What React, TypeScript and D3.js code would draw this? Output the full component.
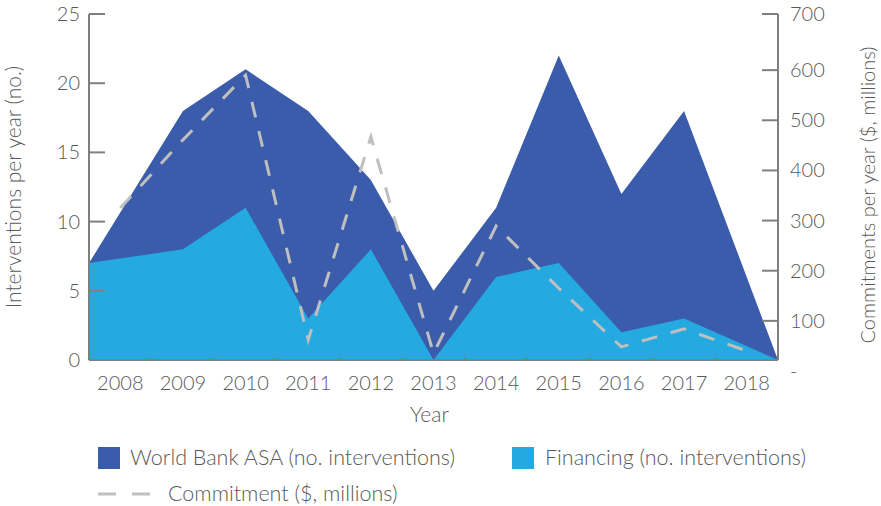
import React from 'react';
import { scaleLinear, scaleBand, area, line } from 'd3';

// chart values
const years = ['2008', '2009', '2010', '2011', '2012', '2013', '2014', '2015', '2016', '2017', '2018'];
const asaValues = [7, 18, 21, 18, 13, 5, 11, 22, 12, 18, 0];
const financingValues = [7, 8, 11, 3, 8, 0, 6, 7, 2, 3, 0];
const commitmentValues = [325, 461, 590, 62, 467, 35, 289, 165, 48, 84, 40];
const leftTicks = [0, 5, 10, 15, 20, 25];
const rightTicks = [0, 100, 200, 300, 400, 500, 600, 700];

const width = 881;
const height = 506;
const margin = { top: 14, right: 103, bottom: 146, left: 89 };
const innerWidth = width - margin.left - margin.right;
const innerHeight = height - margin.top - margin.bottom;

const darkBlue = '#3a5caa';
const lightBlue = '#24a9e1';
const dashGrey = '#bfbfbf';
const axisGrey = '#7f7f7f';
const textGrey = '#595959';
const font = 'Lato, "Open Sans", sans-serif';

export default function App() {
  const xBand = scaleBand().domain(years).range([0, innerWidth]);
  const bw = xBand.bandwidth();
  const center = (i) => (xBand(years[i]) as number) + bw / 2;
  // the areas run to the plot edges at the first and last year
  const areaX = (i) => (i === 0 ? 0 : i === years.length - 1 ? innerWidth : center(i));

  const yLeft = scaleLinear().domain([0, 25]).range([innerHeight, 0]);
  const yRight = scaleLinear().domain([0, 700]).range([innerHeight + 11, 6]);

  const areaGen = (vals) =>
    area()
      .x((_, i) => areaX(i))
      .y0(innerHeight)
      .y1((d) => yLeft(d))(vals);

  const linePath = line()
    .x((_, i) => center(i))
    .y((d) => yRight(d))(commitmentValues);

  return (
    <svg width={width} height={height} style={{ position: 'absolute', left: 0, top: 0 }} fontFamily={font}>
      <g transform={`translate(${margin.left},${margin.top})`}>
        <path d={areaGen(asaValues)} fill={darkBlue} />
        <path d={areaGen(financingValues)} fill={lightBlue} />
        <path d={linePath} fill="none" stroke={dashGrey} strokeWidth={3} strokeDasharray="16 14" />

        {/* left axis */}
        <line x1={0} x2={0} y1={0} y2={innerHeight} stroke={axisGrey} strokeWidth={2} />
        {leftTicks.map((t) => (
          <g key={t} transform={`translate(0,${yLeft(t)})`}>
            <line x1={0} x2={16} stroke={axisGrey} strokeWidth={2} />
            <text x={-9} dy="0.35em" textAnchor="end" fontSize={20} fontWeight={300} fill={textGrey}>
              {t}
            </text>
          </g>
        ))}

        {/* right axis */}
        <line x1={innerWidth} x2={innerWidth} y1={0} y2={innerHeight} stroke={axisGrey} strokeWidth={2} />
        {rightTicks.map((t) => (
          <g key={t} transform={`translate(${innerWidth},${t === 700 ? 0 : yRight(t)})`}>
            {t > 0 && <line x1={-16} x2={0} stroke={axisGrey} strokeWidth={2} />}
            <text x={12} dy="0.35em" textAnchor="start" fontSize={20} fontWeight={300} fill={textGrey}>
              {t === 0 ? '-' : t}
            </text>
          </g>
        ))}

        {/* bottom axis */}
        <line x1={0} x2={innerWidth} y1={innerHeight} y2={innerHeight} stroke={axisGrey} strokeWidth={2} />
        {years.map((y, i) => (
          <g key={y}>
            {i > 0 && (
              <line x1={xBand(y)} x2={xBand(y)} y1={innerHeight} y2={innerHeight - 3} stroke={axisGrey} strokeWidth={1.5} />
            )}
            <text x={center(i)} y={innerHeight + 30} textAnchor="middle" fontSize={20} fontWeight={300} fill={textGrey}>
              {y}
            </text>
          </g>
        ))}
        <text x={innerWidth / 2 - 4} y={innerHeight + 62} textAnchor="middle" fontSize={21} fontWeight={300} fill={textGrey}>
          Year
        </text>

        {/* axis titles */}
        <text
          transform={`translate(-68,${innerHeight / 2}) rotate(-90)`}
          textAnchor="middle"
          fontSize={21}
          fontWeight={300}
          fill={textGrey}
        >
          Interventions per year (no.)
        </text>
        <text
          transform={`translate(${innerWidth + 97},${innerHeight / 2 + 8}) rotate(-90)`}
          textAnchor="middle"
          fontSize={20}
          fontWeight={300}
          fill={textGrey}
        >
          Commitments per year ($, millions)
        </text>
      </g>

      {/* legend */}
      <g fontSize={21.5} fontWeight={300} fill={textGrey}>
        <rect x={98} y={447} width={22} height={22} fill={darkBlue} />
        <text x={130} y={465}>
          World Bank ASA (no. interventions)
        </text>
        <rect x={512} y={447} width={22} height={22} fill={lightBlue} />
        <text x={545} y={465}>
          Financing (no. interventions)
        </text>
        <line x1={98} x2={152} y1={494} y2={494} stroke={dashGrey} strokeWidth={3} strokeDasharray="18 16" />
        <text x={168} y={501}>
          Commitment ($, millions)
        </text>
      </g>
    </svg>
  );
}
